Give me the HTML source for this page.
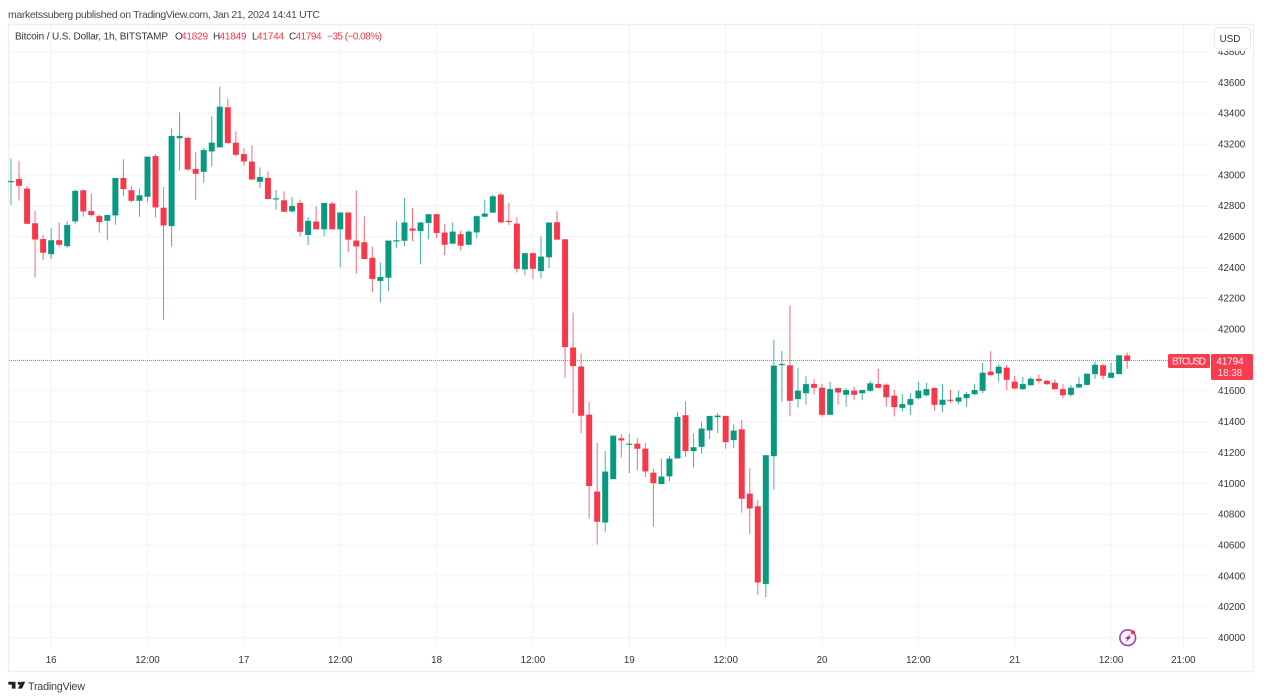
<!DOCTYPE html>
<html lang="en">
<head>
<meta charset="utf-8">
<title>BTCUSD chart</title>
<style>
html,body{margin:0;padding:0;background:#fff;width:1276px;height:698px;overflow:hidden}
svg{display:block;position:absolute;left:0;top:0}
text{font-family:"Liberation Sans",Arial,sans-serif;}
</style>
</head>
<body>
<svg id="chart" width="1276" height="698" viewBox="0 0 1276 698" xmlns="http://www.w3.org/2000/svg">
  <text x="8" y="18" font-size="10.5" fill="#454850" textLength="312" lengthAdjust="spacing">marketssuberg published on TradingView.com, Jan 21, 2024 14:41 UTC</text>
  <rect x="8.5" y="24.5" width="1245" height="647" fill="#fff" stroke="#eeeff2" stroke-width="1.5"/>
  <g id="grid"></g>
  <g id="price-line"></g>
  <g id="candles"></g>
  <g id="yaxis"></g>
  <g id="xaxis"></g>

  <g font-size="10">
    <text x="15" y="39.5" fill="#30333b" textLength="153" lengthAdjust="spacing">Bitcoin / U.S. Dollar, 1h, BITSTAMP</text>
    <text x="175" y="39.5" fill="#30333b">O</text>
    <text x="181" y="39.5" fill="#f23645" textLength="27">41829</text>
    <text x="213" y="39.5" fill="#30333b">H</text>
    <text x="219.5" y="39.5" fill="#f23645" textLength="27">41849</text>
    <text x="252" y="39.5" fill="#30333b">L</text>
    <text x="257" y="39.5" fill="#f23645" textLength="27">41744</text>
    <text x="289" y="39.5" fill="#30333b">C</text>
    <text x="295.5" y="39.5" fill="#f23645" textLength="26">41794</text>
    <text x="327" y="39.5" fill="#f23645" textLength="55">−35 (−0.08%)</text>
  </g>

  <g>
    <rect x="1212" y="26" width="41" height="24.8" fill="#fff"/>
    <rect x="1214.5" y="27.5" width="36" height="21.5" rx="4" fill="#fff" stroke="#e6e7ea"/>
    <text x="1230" y="42" font-size="9.8" fill="#30333b" text-anchor="middle">USD</text>
  </g>

  <g>
    <rect x="1168" y="354" width="42" height="14" rx="1.5" fill="#f73c4e"/>
    <text x="1189" y="364.5" font-size="10" fill="#fff" fill-opacity="0.92" text-anchor="middle" textLength="34">BTCUSD</text>
    <rect x="1211" y="354" width="42" height="26" rx="1.5" fill="#f73c4e"/>
    <text x="1230" y="364.5" font-size="9.8" fill="#fff" text-anchor="middle">41794</text>
    <text x="1230" y="375.8" font-size="9.8" fill="#fff" fill-opacity="0.85" text-anchor="middle">18:38</text>
  </g>

  <g>
    <circle cx="1127.7" cy="637.7" r="7.8" fill="#fff" stroke="#ab47bc" stroke-width="1.7"/>
    <path d="M1131.7 633 L1124.7 638.8 L1127.6 638.8 L1125.2 642.7 L1131.4 636.8 L1128.5 636.8 Z" fill="#9c27b0"/>
    <circle cx="1133" cy="632.3" r="2.1" fill="#f23645"/>
  </g>

  <g>
    <path d="M8.3 681.8 H15.5 V688.6 H11.8 V684.6 H8.3 Z M19.2 681.8 a1.5 1.5 0 1 1 0 3 a1.5 1.5 0 1 1 0 -3 Z M21.2 681.8 H25.2 L22 688.6 H18 Z" fill="#1e222d"/>
    <text x="28" y="690" font-size="10.8" fill="#3d4048" textLength="57" lengthAdjust="spacing">TradingView</text>
  </g>
</svg>

<script>
// Hourly BITSTAMP BTC/USD candles, starting 15 Jan 19:00 UTC
const opens = [42956,42973,42911,42686,42584,42487,42576,42539,42699,42900,42766,42733,42703,42738,42980,42900,42833,42859,43122,42787,42669,43239,43241,43038,43021,43153,43179,43438,43209,43135,43086,42956,42980,42844,42835,42764,42818,42611,42697,42648,42814,42648,42756,42574,42563,42462,42313,42334,42570,42574,42652,42637,42689,42745,42626,42555,42615,42548,42628,42730,42756,42872,42702,42684,42388,42492,42377,42466,42693,42582,41880,41757,41445,40946,40747,41028,41292,41251,41257,41225,41069,40996,41046,41162,41441,41210,41238,41344,41430,41437,41281,41350,40933,40851,40348,41177,41767,41765,41547,41585,41644,41620,41445,41618,41575,41601,41585,41601,41644,41639,41568,41490,41510,41553,41572,41618,41510,41542,41531,41553,41579,41601,41724,41713,41750,41659,41611,41637,41678,41665,41652,41611,41575,41622,41639,41709,41765,41685,41709,41829];
const highs = [43107,43092,42928,42766,42610,42654,42692,42697,42906,42906,42878,42744,42740,42980,43103,42926,42911,43120,43135,42921,43300,43406,43241,43148,43176,43380,43572,43496,43282,43172,43192,43049,43023,42902,42893,42857,42840,42727,42797,42818,42823,42756,42756,42900,42732,42535,42434,42574,42699,42851,42784,42695,42747,42747,42680,42693,42639,42641,42738,42840,42872,42879,42818,42727,42494,42498,42602,42691,42764,42582,42107,41841,41528,41262,41208,41309,41320,41320,41292,41264,41095,41160,41180,41465,41532,41324,41400,41437,41458,41437,41383,41411,41098,40894,41182,41932,41858,42152,41750,41696,41676,41646,41659,41618,41618,41626,41607,41665,41743,41648,41607,41579,41585,41659,41652,41622,41644,41607,41601,41592,41644,41782,41856,41773,41769,41698,41691,41691,41704,41672,41676,41644,41637,41691,41713,41789,41773,41782,41830,41849];
const lows = [42805,42833,42682,42334,42448,42455,42535,42528,42684,42729,42729,42625,42576,42677,42863,42820,42729,42826,42725,42061,42535,43030,43027,42839,42950,43055,43179,43205,43122,43060,42969,42917,42842,42775,42759,42755,42602,42546,42648,42602,42648,42401,42498,42360,42455,42239,42174,42248,42524,42537,42572,42421,42583,42589,42479,42552,42511,42544,42589,42725,42756,42689,42676,42367,42349,42323,42330,42397,42581,41685,41456,41327,40771,40603,40687,41028,41167,41067,41085,41041,40719,40996,41013,41162,41171,41104,41193,41288,41327,41225,41229,40810,40672,40276,40263,40959,41528,41435,41493,41510,41575,41432,41445,41510,41497,41542,41540,41592,41618,41497,41434,41467,41445,41544,41562,41471,41462,41521,41514,41497,41570,41583,41700,41659,41605,41609,41609,41633,41650,41639,41611,41553,41562,41618,41635,41678,41674,41683,41709,41744];
const closes = [42960,42930,42684,42582,42496,42576,42548,42675,42896,42764,42740,42695,42740,42980,42909,42833,42867,43118,42790,42673,43252,43252,43036,43008,43161,43209,43442,43207,43131,43088,42971,42986,42844,42848,42762,42798,42632,42702,42648,42818,42648,42756,42581,42537,42455,42326,42338,42574,42576,42691,42639,42691,42745,42624,42548,42632,42542,42632,42732,42749,42861,42693,42695,42392,42492,42392,42470,42691,42581,41884,41761,41439,40983,40752,41076,41309,41279,41257,41225,41078,41002,41044,41160,41430,41210,41234,41355,41437,41439,41268,41342,40901,40838,40358,41182,41763,41774,41536,41601,41644,41620,41445,41611,41590,41605,41575,41605,41648,41620,41559,41495,41514,41546,41601,41611,41510,41542,41536,41557,41579,41605,41717,41702,41756,41672,41616,41644,41678,41665,41644,41611,41572,41620,41644,41711,41769,41698,41717,41830,41794];
const lastPrice = 41794;
const priceTicks = [40000,40200,40400,40600,40800,41000,41200,41400,41600,41800,42000,42200,42400,42600,42800,43000,43200,43400,43600,43800];
const hiddenPriceLabels = [41800];
const timeTickBars = [5,17,29,41,53,65,77,89,101,113,125,137,146];
const timeTickLabels = ['16','12:00','17','12:00','18','12:00','19','12:00','20','12:00','21','12:00','21:00'];

const NS = 'http://www.w3.org/2000/svg';
function xScale(bar){ return 11 + bar * 8.03; }
function yScale(price){ return 637.6 - (price - 40000) * 0.15422; }
function mk(tag, parent, attrs){
  const el = document.createElementNS(NS, tag);
  for (const k in attrs) el.setAttribute(k, attrs[k]);
  parent.appendChild(el);
  return el;
}
const gridG = document.getElementById('grid');
const candlesG = document.getElementById('candles');
const yG = document.getElementById('yaxis');
const xG = document.getElementById('xaxis');
const priceLineG = document.getElementById('price-line');

priceTicks.forEach(function(p){
  const y = yScale(p);
  const line = mk('line', gridG, {x1: 9, x2: 1210, y1: y, y2: y, stroke: '#f2f3f5', 'stroke-width': 1});
  
  
  if (hiddenPriceLabels.indexOf(p) === -1) {
    const t = mk('text', yG, {x: 1218, y: y + 3.4, 'font-size': 9.8, fill: '#30333b'});
    
    
    t.textContent = String(p);
  }
});
timeTickBars.forEach(function(b, i){
  const x = xScale(b);
  const line = mk('line', gridG, {x1: x, x2: x, y1: 25, y2: 647, stroke: '#f2f3f5', 'stroke-width': 1});
  
  
  const t = mk('text', xG, {x: x, y: 663, 'font-size': 9.8, fill: '#30333b', 'text-anchor': 'middle'});
  
  
  t.textContent = timeTickLabels[i];
});

const lastY = Math.floor(yScale(lastPrice)) + 0.5;
const pl = mk('line', priceLineG, {x1: 9, x2: 1168, y1: lastY, y2: lastY, stroke: '#f7374a', 'stroke-width': 1, 'stroke-dasharray': '1 1', 'stroke-opacity': 0.75});



opens.forEach(function(o, i){
  const c = closes[i];
  const color = c >= o ? '#089a81' : '#f7374a';
  const x = xScale(i);
  const wick = mk('line', candlesG, {x1: x, x2: x, y1: yScale(highs[i]), y2: yScale(lows[i]), stroke: color, 'stroke-width': 1, 'stroke-opacity': 0.75});
  
  
  const top = yScale(Math.max(o, c));
  const h = Math.max(1, yScale(Math.min(o, c)) - top);
  const body = mk('rect', candlesG, {x: x - 2.9, y: top, width: 5.8, height: h, fill: color, stroke: color, 'stroke-width': 0.6, 'stroke-opacity': 0.3});
  
  
});
</script>
</body>
</html>
